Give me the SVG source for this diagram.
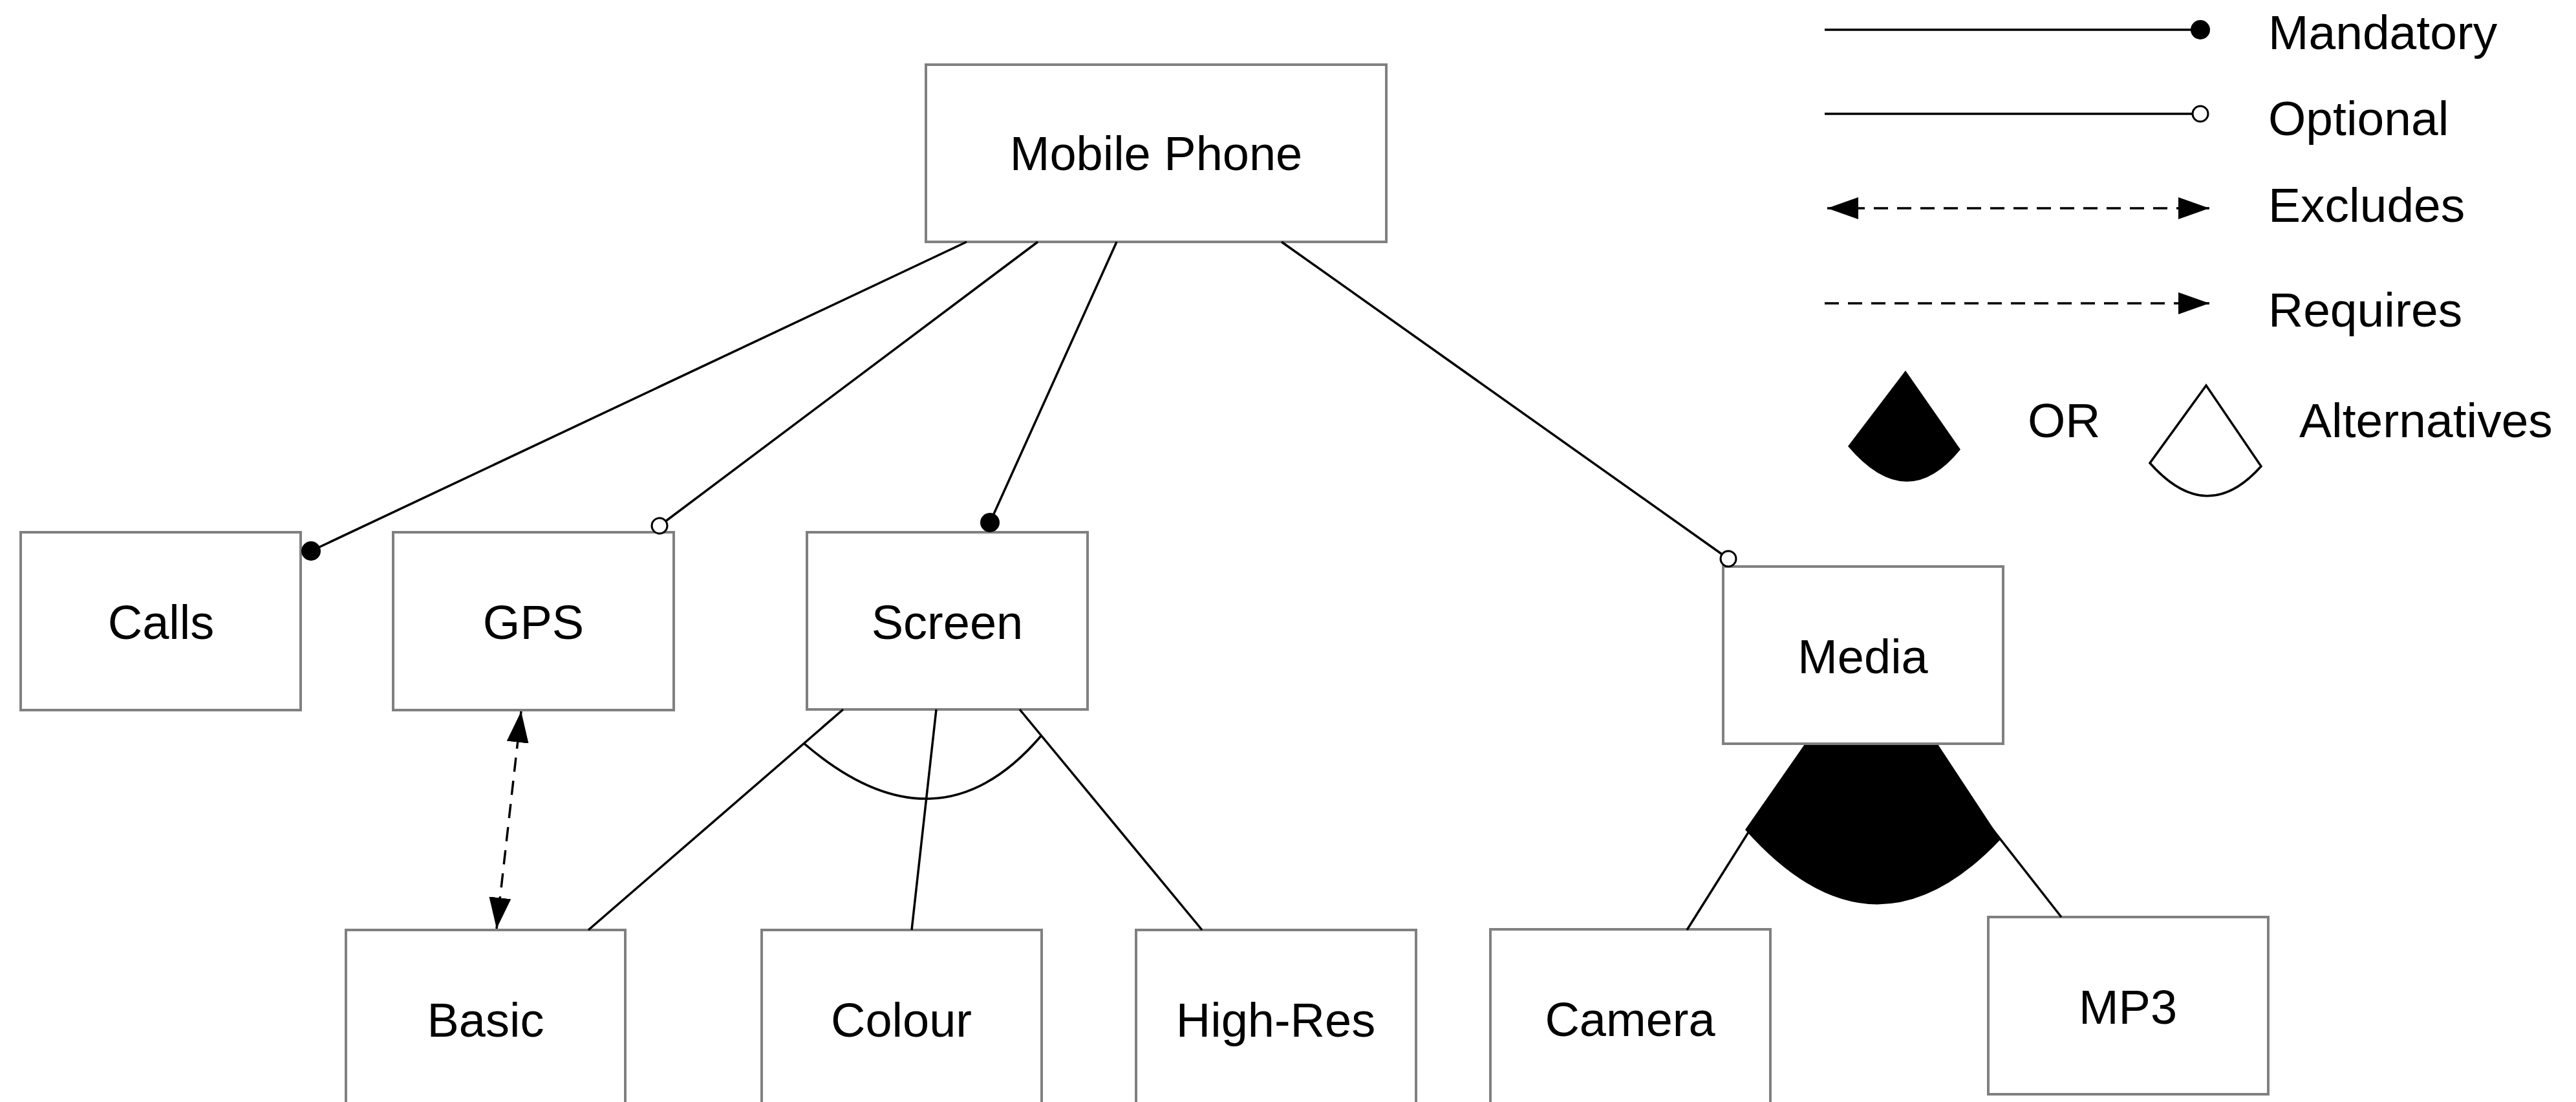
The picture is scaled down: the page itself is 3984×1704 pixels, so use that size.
<svg xmlns="http://www.w3.org/2000/svg" width="3984" height="1704" viewBox="0 0 3984 1704">
<style>
.box{fill:#fff;stroke:#808080;stroke-width:4}
.lbl{font-family:"Liberation Sans",Arial,sans-serif;font-size:74px;fill:#000;text-anchor:middle}
.leg{font-family:"Liberation Sans",Arial,sans-serif;font-size:75px;fill:#000}
.ln{fill:none;stroke:#000;stroke-width:3.5}
.dash{fill:none;stroke:#000;stroke-width:3.5;stroke-dasharray:22 14}
</style>
<defs>
<marker id="mand" markerUnits="userSpaceOnUse" viewBox="0 0 40 40" markerWidth="40" markerHeight="40" refX="20" refY="20"><circle cx="20" cy="20" r="15" fill="#000"/></marker>
<marker id="opt" markerUnits="userSpaceOnUse" viewBox="0 0 40 40" markerWidth="40" markerHeight="40" refX="20" refY="20"><circle cx="20" cy="20" r="12" fill="#fff" stroke="#000" stroke-width="3"/></marker>
<marker id="arr" markerUnits="userSpaceOnUse" viewBox="0 0 48 34" markerWidth="48" markerHeight="34" refX="48" refY="17" orient="auto-start-reverse"><path d="M0,0 L48,17 L0,34 z" fill="#000"/></marker>
</defs>
<rect width="3984" height="1704" fill="#fff"/>

<g id="groups">
<path id="or-media" d="M2897,999 L2699,1283 Q2897,1506 3094,1298 Z" fill="#000"/>
</g>

<g id="node-mobile-phone"><rect class="box" x="1432" y="100" width="712" height="274"/><text class="lbl" x="1788" y="263">Mobile Phone</text></g>
<g id="node-calls"><rect class="box" x="32" y="823" width="433" height="275"/><text class="lbl" x="249" y="988">Calls</text></g>
<g id="node-gps"><rect class="box" x="608" y="823" width="434" height="275"/><text class="lbl" x="825" y="988">GPS</text></g>
<g id="node-screen"><rect class="box" x="1248" y="823" width="434" height="274"/><text class="lbl" x="1465" y="988">Screen</text></g>
<g id="node-media"><rect class="box" x="2665" y="876" width="433" height="274"/><text class="lbl" x="2881" y="1041">Media</text></g>
<g id="node-basic"><rect class="box" x="535" y="1438" width="432" height="280"/><text class="lbl" x="751" y="1603">Basic</text></g>
<g id="node-colour"><rect class="box" x="1178" y="1438" width="433" height="280"/><text class="lbl" x="1394" y="1603">Colour</text></g>
<g id="node-high-res"><rect class="box" x="1757" y="1438" width="433" height="280"/><text class="lbl" x="1973" y="1603">High-Res</text></g>
<g id="node-camera"><rect class="box" x="2305" y="1437" width="433" height="280"/><text class="lbl" x="2521" y="1602">Camera</text></g>
<g id="node-mp3"><rect class="box" x="3075" y="1418" width="433" height="274"/><text class="lbl" x="3291" y="1583">MP3</text></g>

<g id="connectors">
<line class="ln" x1="1495" y1="374" x2="481" y2="852" marker-end="url(#mand)"/>
<line class="ln" x1="1605" y1="374" x2="1020" y2="813" marker-end="url(#opt)"/>
<line class="ln" x1="1727" y1="374" x2="1531" y2="808" marker-end="url(#mand)"/>
<line class="ln" x1="1982" y1="374" x2="2673" y2="864" marker-end="url(#opt)"/>
<line class="ln" x1="1304" y1="1097" x2="910" y2="1438"/>
<line class="ln" x1="1448" y1="1097" x2="1410" y2="1438"/>
<line class="ln" x1="1577" y1="1097" x2="1859" y2="1438"/>
<path class="ln" d="M1244,1150 Q1449,1326 1610,1138"/>
<line class="ln" x1="2721" y1="1260" x2="2609" y2="1438"/>
<line class="ln" x1="3072" y1="1270" x2="3188" y2="1418"/>
<line class="dash" x1="806" y1="1100" x2="768" y2="1436" marker-start="url(#arr)" marker-end="url(#arr)"/>
</g>

<g id="legend">
<line class="ln" x1="2822" y1="46" x2="3403" y2="46" marker-end="url(#mand)"/>
<text class="leg" x="3508" y="76">Mandatory</text>
<line class="ln" x1="2822" y1="176" x2="3403" y2="176" marker-end="url(#opt)"/>
<text class="leg" x="3508" y="209">Optional</text>
<line class="dash" x1="2826" y1="322" x2="3417" y2="322" marker-start="url(#arr)" marker-end="url(#arr)"/>
<text class="leg" x="3508" y="343">Excludes</text>
<line class="dash" x1="2822" y1="469" x2="3417" y2="469" marker-end="url(#arr)"/>
<text class="leg" x="3508" y="505">Requires</text>
<path d="M2947,573 L2858,690 Q2949,797 3032,695 Z" fill="#000"/>
<text class="leg" x="3136" y="676">OR</text>
<path d="M3412,596 L3325,716 Q3413,815 3497,721 Z" fill="#fff" stroke="#000" stroke-width="3.5"/>
<text class="leg" x="3556" y="676">Alternatives</text>
</g>
</svg>
